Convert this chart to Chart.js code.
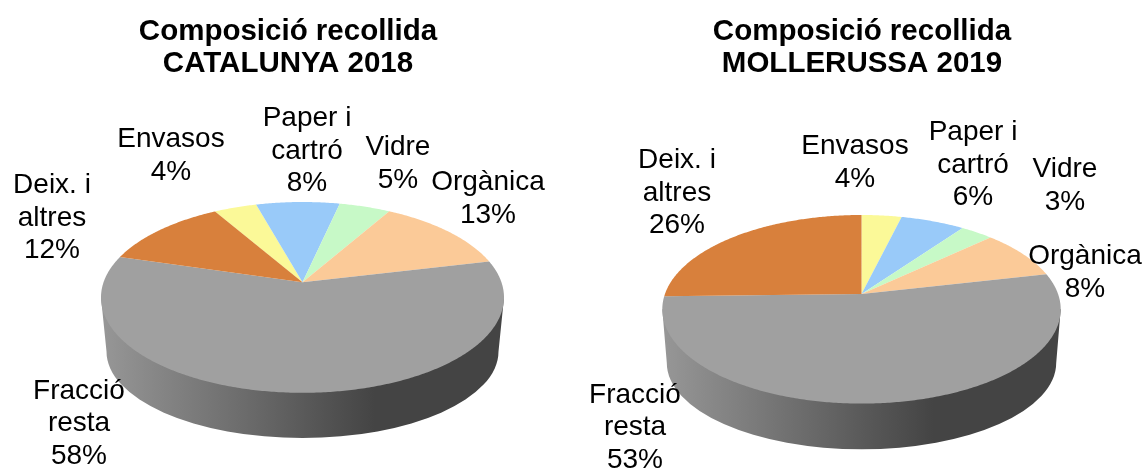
<!DOCTYPE html>
<html>
<head>
<meta charset="utf-8">
<script src="https://cdn.jsdelivr.net/npm/chart.js@4/dist/chart.umd.min.js"></script>
<style>
    body { margin: 0; background: #fff; width: 1145px; height: 468px; overflow: hidden; position: relative; }
    canvas { position: absolute; top: 0; }
</style>
</head>
<body>
<canvas id="pie-cat" width="565" height="468" style="left:0"></canvas>
<canvas id="pie-mol" width="580" height="468" style="left:565px"></canvas>
<script>
const categories = ['Envasos', 'Paper i cartró', 'Vidre', 'Orgànica', 'Fracció resta', 'Deix. i altres'];
const catalunyaValues = [4, 7.8, 4.8, 13, 58.3, 12.1];
const mollerussaValues = [3.8, 6.1, 3.1, 8.4, 53.2, 25.4];
const catalunyaPct = ['4%', '8%', '5%', '13%', '58%', '12%'];
const mollerussaPct = ['4%', '6%', '3%', '8%', '53%', '26%'];
const sliceColors = ['#fbf998', '#99caf9', '#c7f9c7', '#fbca98', '#a0a0a0', '#d8803c'];

const labelLines = [['Envasos'], ['Paper i', 'cartró'], ['Vidre'], ['Orgànica'], ['Fracció', 'resta'], ['Deix. i', 'altres']];

// page coordinates, [x, y of first line]
const catalunyaLabelPos = [[171, 139.5], [307, 118.5], [398, 147.5], [488, 182.5], [79, 391], [52, 185.5]];
const mollerussaLabelPos = [[855, 146.5], [973, 132.5], [1065, 169.5], [1085, 256.5], [635, 395], [677, 160.5]];

const LINE_H = 32.5;

// the pie is seen in perspective, so the apex sits above the middle of the ellipse
function rimPoint(g, theta) {
    const u = Math.sin(theta), v = -Math.cos(theta);
    const w0 = (g.apexY - g.cy) / g.ry;
    const d = 1 + w0 * v;
    return {
        x: g.cx + g.rx * u * Math.sqrt(1 - w0 * w0) / d,
        y: g.cy + g.ry * (v + w0) / d
    };
}

const pie3d = {
    id: 'pie3d',
    beforeDatasetsDraw(chart, args, opts) {
        const g = opts.geom;
        const ctx = chart.ctx;
        const arcs = chart.getDatasetMeta(0).data;

        // side wall
        const grad = ctx.createLinearGradient(g.cx - g.rx, 0, g.cx + g.rx, 0);
        grad.addColorStop(0, '#979797');
        grad.addColorStop(0.68, '#444444');
        grad.addColorStop(1, '#444444');
        ctx.save();
        ctx.fillStyle = grad;
        ctx.beginPath();
        ctx.moveTo(g.cx - g.rx, g.cy);
        ctx.lineTo(g.cx - g.brx, g.bcy);
        ctx.ellipse(g.cx, g.bcy, g.brx, g.bry, 0, Math.PI, 0, true);
        ctx.lineTo(g.cx + g.rx, g.cy);
        ctx.closePath();
        ctx.fill();

        // top face, angles come from the library's arcs
        arcs.forEach((arc, i) => {
            const start = arc.startAngle + Math.PI / 2;
            const end = arc.endAngle + Math.PI / 2;
            const steps = Math.max(2, Math.ceil((end - start) / 0.01));
            ctx.beginPath();
            ctx.moveTo(g.cx, g.apexY);
            for (let s = 0; s <= steps; s++) {
                const p = rimPoint(g, start + (end - start) * s / steps);
                ctx.lineTo(p.x, p.y);
            }
            ctx.closePath();
            ctx.fillStyle = sliceColors[i];
            ctx.fill();
        });
        ctx.restore();
        return false;
    },
    afterDraw(chart, args, opts) {
        const ctx = chart.ctx;
        ctx.save();
        ctx.font = '28px "Liberation Sans"';
        ctx.fillStyle = '#000';
        ctx.textAlign = 'center';
        ctx.textBaseline = 'middle';
        labelLines.forEach((lines, i) => {
            const pos = opts.labelPos[i];
            lines.concat(opts.pct[i]).forEach((txt, k) => {
                ctx.fillText(txt, pos[0] - opts.offsetX, pos[1] + k * LINE_H);
            });
        });
        ctx.restore();
    }
};

function makePie(id, titleLines, values, pct, labelPos, rotation, offsetX, pad, geom) {
    return new Chart(document.getElementById(id), {
        type: 'pie',
        data: {
            labels: categories,
            datasets: [{ data: values, backgroundColor: sliceColors, borderWidth: 0 }]
        },
        options: {
            responsive: false,
            animation: false,
            rotation: rotation,
            layout: { padding: pad },
            plugins: {
                legend: { display: false },
                tooltip: { enabled: false },
                title: {
                    display: true,
                    text: titleLines,
                    color: '#000',
                    font: { family: '"Liberation Sans"', size: 29.5, weight: 'bold', lineHeight: 1.09 },
                    padding: { top: 16, bottom: 0 }
                },
                pie3d: { geom: geom, labelPos: labelPos, pct: pct, offsetX: offsetX }
            }
        },
        plugins: [pie3d]
    });
}

makePie('pie-cat', ['Composició recollida', 'CATALUNYA 2018'], catalunyaValues, catalunyaPct, catalunyaLabelPos, -30, 0,
    { left: 11 },
    { cx: 302.5, cy: 297.4, rx: 201.5, ry: 95.4, apexY: 282.3, brx: 196, bcy: 351.5, bry: 86.5 });

makePie('pie-mol', ['Composició recollida', 'MOLLERUSSA 2019'], mollerussaValues, mollerussaPct, mollerussaLabelPos, 0, 565,
    { left: 14 },
    { cx: 296.5, cy: 309.3, rx: 199.2, ry: 94.3, apexY: 294, brx: 194.7, bcy: 363, bry: 86.3 });
</script>
</body>
</html>
